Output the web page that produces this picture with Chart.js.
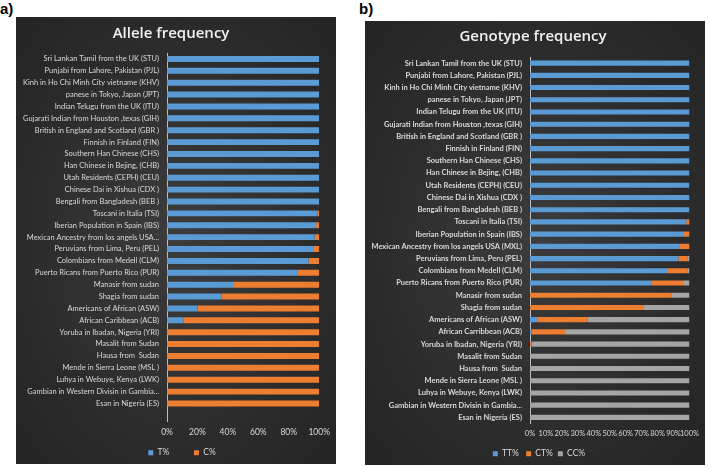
<!DOCTYPE html>
<html>
<head>
<meta charset="utf-8">
<script src="https://cdn.jsdelivr.net/npm/chart.js@4.4.0/dist/chart.umd.min.js"></script>
<style>
  body { margin: 0; background: #fff; width: 710px; height: 467px; position: relative; overflow: hidden; font-family: "Liberation Sans", Arial, sans-serif; }
  .tag { position: absolute; font-weight: bold; font-size: 15px; color: #000; }
  .panel { position: absolute; background: radial-gradient(ellipse at center, #3c3c3c 0%, #2a2a2a 70%, #242424 100%); }
  #boxA { left: 16px; top: 17px; width: 320px; height: 447px; }
  #boxB { left: 365px; top: 21px; width: 340px; height: 444px; }
</style>
</head>
<body>
<div class="tag" style="left:0px;top:0px;">a)</div>
<div class="tag" style="left:359px;top:0px;">b)</div>
<div class="panel" id="boxA"><canvas id="allele" width="320" height="447"></canvas></div>
<div class="panel" id="boxB"><canvas id="geno" width="340" height="444"></canvas></div>
<script>
// populations, top to bottom
const popsB = [
  'Sri Lankan Tamil from the UK (STU)', 'Punjabi from Lahore, Pakistan (PJL)',
  'Kinh in Ho Chi Minh City vietname (KHV)', 'panese in Tokyo, Japan (JPT)',
  'Indian Telugu from the UK (ITU)', 'Gujarati Indian from Houston ,texas (GIH)',
  'British in England and Scotland (GBR )', 'Finnish in Finland (FIN)',
  'Southern Han Chinese (CHS)', 'Han Chinese in Bejing, (CHB)',
  'Utah Residents (CEPH) (CEU)', 'Chinese Dai in Xishua (CDX )',
  'Bengali from Bangladesh (BEB )', 'Toscani in Italia (TSI)',
  'Iberian Population in Spain (IBS)', 'Mexican Ancestry from los angels USA (MXL)',
  'Peruvians from Lima, Peru (PEL)', 'Colombians from Medell (CLM)',
  'Puerto Ricans from Puerto Rico (PUR)', 'Manasir from sudan',
  'Shagia from sudan', 'Americans of African (ASW)',
  'African Carribbean (ACB)', 'Yoruba in Ibadan, Nigeria (YRI)',
  'Masalit from Sudan', 'Hausa from  Sudan',
  'Mende in Sierra Leone (MSL )', 'Luhya in Webuye, Kenya (LWK)',
  'Gambian in Western Divisin in Gambia...', 'Esan in Nigeria (ES)'
];
// allele chart shortens one label, spells ACB differently and has an empty last row
const popsA = popsB.slice();
popsA[15] = 'Mexican Ancestry from los angels USA...';
popsA[22] = 'African Caribbean (ACB)';
popsA.push('');

// allele frequency (%)
const tPct = [100,100,100,100,100,100,100,100,100,100,100,100,100,99,98,97,96,93,86,44,36,20,11,0,0,0,0,0,0,0,null];
const cPct = [0,0,0,0,0,0,0,0,0,0,0,0,0,1,2,3,4,7,14,56,64,80,89,100,100,100,100,100,100,100,null];

// genotype frequency (%)
const ttPct = [100,100,100,100,100,100,100,100,100,100,100,100,100,98,96,94,93,86,76,0,0,5,1,0,0,0,0,0,0,0];
const ctPct = [0,0,0,0,0,0,0,0,0,0,0,0,0,2,4,6,6,13,20,89,71,31,21,1,0,0,0,0,0,0];
const ccPct = [0,0,0,0,0,0,0,0,0,0,0,0,0,0,0,0,1,1,4,11,29,64,78,99,100,100,100,100,100,100];

const blue = '#5b9bd5', orange = '#ed7d31', grey = '#a5a5a5';
const txt = '#d9d9d9';

// nudge the legend sideways (Excel doesn't centre it exactly)
const legendShift = {
  id: 'legendShift',
  afterLayout(ch, args, opts) {
    ch.legend.left += opts.dx || 0;
    ch.legend.right += opts.dx || 0;
  }
};

function makeChart(id, title, labels, sets, o) {
  return new Chart(document.getElementById(id), {
    type: 'bar',
    data: {
      labels: labels,
      datasets: sets.map(s => ({
        label: s[0], data: s[1], backgroundColor: s[2],
        categoryPercentage: 1, barPercentage: o.barPct
      }))
    },
    plugins: [legendShift],
    options: {
      indexAxis: 'y',
      responsive: false,
      animation: false,
      layout: { padding: { left: 0, right: o.padRight, top: 0, bottom: o.padBottom } },
      scales: {
        x: {
          stacked: true, min: 0, max: 100,
          grid: { display: false, drawTicks: false }, border: { display: false },
          ticks: { stepSize: o.step, autoSkip: false, maxRotation: 0, minRotation: 0, color: txt, padding: 6,
                   font: { size: o.xFont, family: 'Lato' }, callback: v => v + '%' }
        },
        y: {
          stacked: true,
          grid: { display: false, drawTicks: false },
          border: { display: true, color: '#bfbfbf' },
          afterFit: s => { s.width = o.yWidth; },
          ticks: { color: txt, padding: 8, autoSkip: false, font: { size: 7.5, family: 'Lato', weight: o.bold ? 'bold' : 'normal' } }
        }
      },
      plugins: {
        title: { display: true, text: title, color: '#f2f2f2', font: { size: 15, family: 'Open Sans', weight: '600' }, padding: o.titlePad },
        legend: {
          position: 'bottom',
          labels: {
            color: txt, boxWidth: 5, boxHeight: 5, padding: 5, font: { size: 8.5, family: 'Lato' },
            generateLabels: ch => Chart.defaults.plugins.legend.labels.generateLabels(ch).map((l, i) => {
              l.text = l.text + (o.legGap[i] || '');
              return l;
            })
          }
        },
        legendShift: { dx: o.legDx },
        tooltip: { enabled: false }
      }
    }
  });
}

makeChart('allele', 'Allele frequency', popsA,
  [['T%', tPct, blue], ['C%', cPct, orange]],
  { step: 20, yWidth: 151, bold: false, padRight: 10, padBottom: -3, barPct: 0.5, xFont: 8.5,
    titlePad: { top: 8, bottom: 10 }, legGap: ['         ', ''], legDx: 11 });
makeChart('geno', 'Genotype frequency', popsB,
  [['TT%', ttPct, blue], ['CT%', ctPct, orange], ['CC%', ccPct, grey]],
  { step: 10, yWidth: 165, bold: true, padRight: 4, padBottom: -3, barPct: 0.42, xFont: 7.5,
    titlePad: { top: 7, bottom: 11 }, legGap: [' ', '', ''], legDx: 6 });
</script>
</body>
</html>
